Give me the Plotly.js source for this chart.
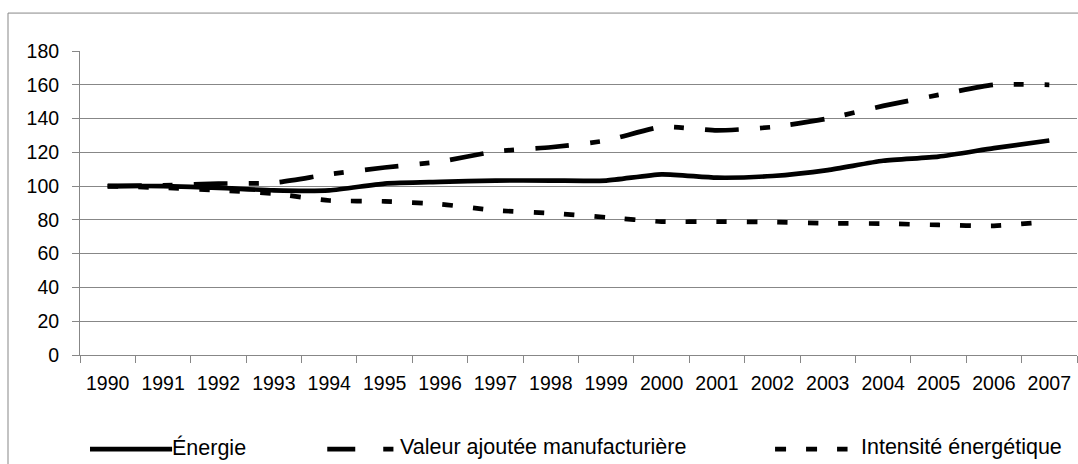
<!DOCTYPE html>
<html>
<head>
<meta charset="utf-8">
<script src="https://cdn.plot.ly/plotly-3.0.1.min.js"></script>
<style>
html,body{margin:0;padding:0;background:#fff;}
#chart{width:1078px;height:464px;}
</style>
</head>
<body>
<div id="chart"></div>
<script>
// ---- data ----
var years = ["1990","1991","1992","1993","1994","1995","1996","1997","1998","1999","2000","2001","2002","2003","2004","2005","2006","2007"];
var energie = [100,100,99,97.5,97.5,101.5,102.5,103.3,103.3,103.3,107,105,106,109.5,115,117.5,122.5,127];
var valeurAjoutee = [100,100.5,101.5,102,107,111,114.5,120.5,123,127,135,133,135,140,147.5,154,160,160];
var intensite = [100,99,97.5,95.5,91.5,91,89.3,85.6,84,81.5,79,79,78.7,78,77.8,77,76.5,79];
var seriesNames = ["Énergie","Valeur ajoutée manufacturière","Intensité énergétique"];
var yTicks = [0,20,40,60,80,100,120,140,160,180];

// ---- layout helpers ----
var W = 1078, H = 464;
var L = 80.3, R = 0.5, T = 51.2, B = 109;
var pw = W - L - R, ph = H - T - B;
function px(x){ return (x - L) / pw; }
function py(y){ return (H - B - y) / ph; }

var FONT = "Liberation Sans, Arial, sans-serif";
var FS = 19.5;
var LFS = 21.5;
var GRID = "#878787";

var traces = [
  {x: years, y: energie, name: seriesNames[0], type: "scatter", mode: "lines",
   line: {color: "#000", width: 4.7, dash: "solid", shape: "spline", smoothing: 0.6}},
  {x: years, y: valeurAjoutee, name: seriesNames[1], type: "scatter", mode: "lines",
   line: {color: "#000", width: 4.7, dash: "34px,21px,10px,21px", shape: "spline", smoothing: 0.6}},
  {x: years, y: intensite, name: seriesNames[2], type: "scatter", mode: "lines",
   line: {color: "#000", width: 4.7, dash: "10.5px,20px", shape: "spline", smoothing: 0.6}}
];

var legY = py(449);
var shapes = [
  // outer chart border
  {type: "rect", xref: "paper", yref: "paper", x0: px(8.3), x1: px(1100), y0: py(13.3), y1: py(500),
   line: {color: GRID, width: 1}, fillcolor: "rgba(0,0,0,0)", layer: "below"},
  // legend samples
  {type: "line", xref: "paper", yref: "paper", x0: px(90.3), x1: px(172.4), y0: legY, y1: legY,
   line: {color: "#000", width: 4.7}},
  {type: "line", xref: "paper", yref: "paper", x0: px(327.6), x1: px(393.8), y0: legY, y1: legY,
   line: {color: "#000", width: 4.7, dash: "28px,28px,10.4px,30px"}},
  {type: "line", xref: "paper", yref: "paper", x0: px(775.5), x1: px(848), y0: legY, y1: legY,
   line: {color: "#000", width: 4.7, dash: "11px,20px"}}
];

var legX = [170, 398, 859];
var annotations = seriesNames.map(function(n, i){
  return {xref: "paper", yref: "paper", x: px(legX[i]), y: py(447), xanchor: "left", yanchor: "middle",
          text: n, showarrow: false, font: {family: FONT, size: LFS, color: "#000"}};
});

var layout = {
  width: W, height: H,
  margin: {l: L, r: R, t: T, b: B, pad: 0},
  paper_bgcolor: "#fff", plot_bgcolor: "#fff",
  showlegend: false,
  font: {family: FONT, size: FS, color: "#000"},
  xaxis: {
    type: "category", categoryorder: "array", categoryarray: years,
    range: [-0.5, years.length - 0.5],
    showgrid: false, zeroline: false,
    showline: true, linecolor: GRID, linewidth: 1,
    ticks: "outside", tickson: "boundaries", ticklen: 7, tickcolor: GRID, tickwidth: 1,
    tickfont: {family: FONT, size: FS, color: "#000"},
    ticklabelstandoff: 11,
    fixedrange: true
  },
  yaxis: {
    range: [0, 180], tickvals: yTicks, ticktext: yTicks.map(String),
    showgrid: true, gridcolor: GRID, gridwidth: 1, zeroline: false,
    showline: true, linecolor: GRID, linewidth: 1,
    ticks: "outside", ticklen: 7, tickcolor: GRID, tickwidth: 1,
    tickfont: {family: FONT, size: FS, color: "#000"},
    ticklabelstandoff: 9,
    fixedrange: true
  },
  shapes: shapes,
  annotations: annotations
};

Plotly.newPlot("chart", traces, layout, {displayModeBar: false, staticPlot: true});
</script>
</body>
</html>
